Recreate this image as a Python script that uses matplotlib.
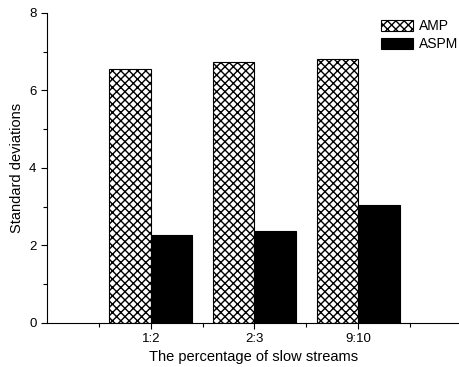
import numpy as np
import matplotlib
matplotlib.use('Agg')
import matplotlib.pyplot as plt
from matplotlib.ticker import MultipleLocator, FixedLocator

plt.rcParams['font.family'] = ['Liberation Sans', 'DejaVu Sans']
plt.rcParams['hatch.linewidth'] = 1.0

categories = ['1:2', '2:3', '9:10']
amp = [6.55, 6.73, 6.81]
aspm = [2.28, 2.37, 3.05]

x = np.arange(1, len(categories) + 1)
w = 0.4

fig = plt.figure(figsize=(4.6, 3.67), dpi=100)
ax = fig.add_axes([0.102, 0.12, 0.898, 0.845])

ax.bar(x - w/2, amp, w, color='white', edgecolor='black', hatch='xxxx', linewidth=0.8, label='AMP')
ax.bar(x + w/2, aspm, w, color='black', edgecolor='black', linewidth=0.8, label='ASPM')

ax.set_xlim(0, 3.98)
ax.set_ylim(0, 8)
ax.set_xticks(x)
ax.set_xticklabels(categories, fontsize=9.5)
ax.xaxis.set_minor_locator(FixedLocator([0.5, 1.5, 2.5, 3.5]))
ax.yaxis.set_major_locator(MultipleLocator(2))
ax.yaxis.set_minor_locator(MultipleLocator(1))
ax.tick_params(axis='y', labelsize=9.5)
ax.tick_params(which='major', length=4, width=0.8)
ax.tick_params(which='minor', length=3, width=0.8)

ax.spines['top'].set_visible(False)
ax.spines['right'].set_visible(False)

ax.set_xlabel('The percentage of slow streams', fontsize=10.5, labelpad=3)
ax.set_ylabel('Standard deviations', fontsize=10.5)

ax.legend(loc='upper right', bbox_to_anchor=(1.025, 1.02), frameon=False, fontsize=10,
          handlelength=2.3, handleheight=0.8, labelspacing=0.3, handletextpad=0.4)

plt.savefig('out.png', dpi=100)
